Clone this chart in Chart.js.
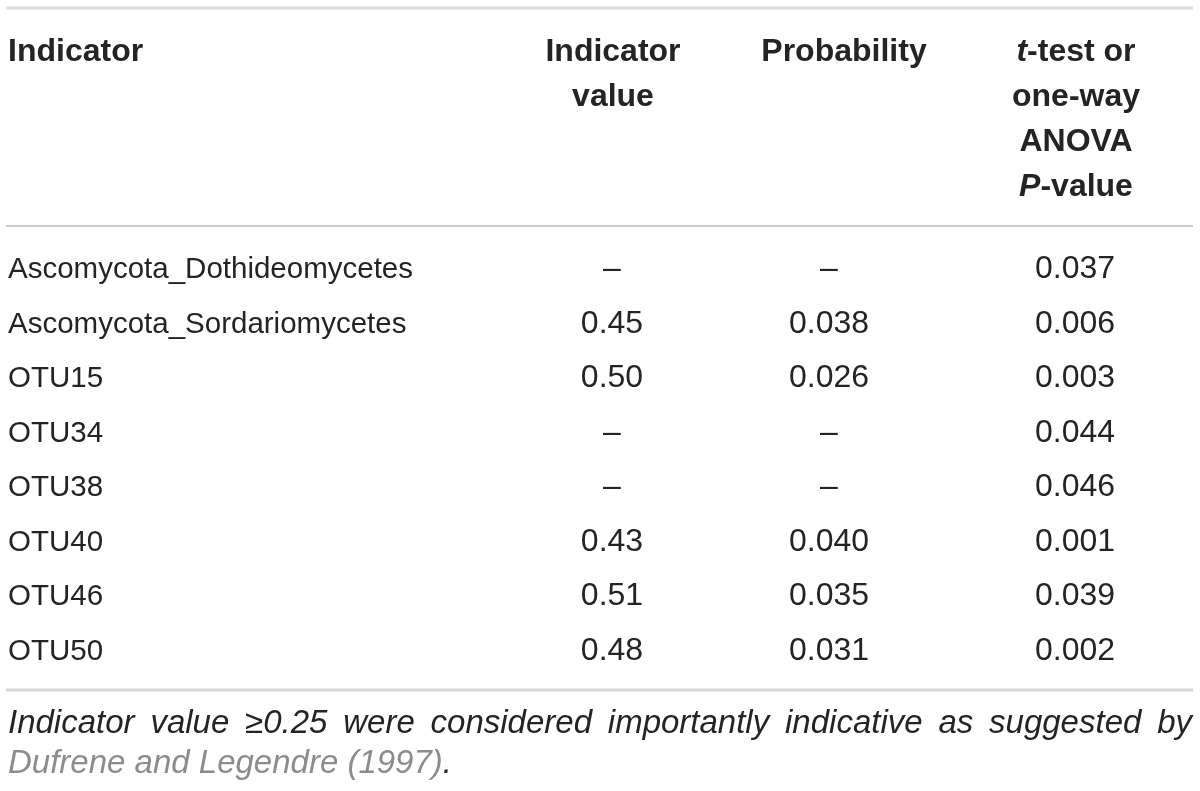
<!DOCTYPE html>
<html>
<head>
<meta charset="utf-8">
<script src="https://cdn.jsdelivr.net/npm/chart.js@4.4.0/dist/chart.umd.min.js"></script>
<style>
  html, body { margin: 0; padding: 0; background: #fff; }
  #wrap { width: 1200px; height: 791px; }
</style>
</head>
<body>
<div id="wrap"><canvas id="table"></canvas></div>
<script>
// table data
const indicators = ['Ascomycota_Dothideomycetes', 'Ascomycota_Sordariomycetes', 'OTU15', 'OTU34', 'OTU38', 'OTU40', 'OTU46', 'OTU50'];
const indicatorValues = [null, 0.45, 0.50, null, null, 0.43, 0.51, 0.48];
const probabilities = [null, 0.038, 0.026, null, null, 0.040, 0.035, 0.031];
const pValues = [0.037, 0.006, 0.003, 0.044, 0.046, 0.001, 0.039, 0.002];

// header lines per column, *x* = italic
const headers = [
    ['Indicator'],
    ['Indicator', 'value'],
    ['Probability'],
    ['*t*-test or', 'one-way', 'ANOVA', '*P*-value']
];
const note = 'Indicator value \u22650.25 were considered importantly indicative as suggested by';
const citation = 'Dufrene and Legendre (1997)';

// layout
const W = 1200, H = 791;
const ROW0 = 278, ROW_H = 54.5;          // baseline of first row, row pitch
const colX = [8, 612, 829, 1075];        // names left edge, then column centres
const headX = [8, 613, 844, 1076];
const headBase = 61, headGap = 45;
const FONT = "'Liberation Sans', Arial, Helvetica, sans-serif";
const INK = '#262324';

const fmt = (v, d) => v === null ? '\u2013' : v.toFixed(d);

const columns = [
    { texts: indicators, align: 'left', size: 29.5 },
    { texts: indicatorValues.map(v => fmt(v, 2)), align: 'center', size: 32 },
    { texts: probabilities.map(v => fmt(v, 3)), align: 'center', size: 32 },
    { texts: pValues.map(v => fmt(v, 3)), align: 'center', size: 32 }
];

const datasets = columns.map((c, ci) => ({
    label: 'col' + ci,
    data: c.texts.map((_, i) => ({ x: colX[ci], y: i })),
    texts: c.texts,
    align: c.align,
    size: c.size,
    pointRadius: 0,
    pointHoverRadius: 0
}));

const toRow = px => (px - ROW0) / ROW_H;

function drawRich(ctx, line, x, y, align, size, weight) {
    const parts = line.split('*').map((t, i) => ({ t, it: i % 2 === 1 })).filter(p => p.t);
    const fontOf = p => (p.it ? 'italic ' : '') + weight + ' ' + size + 'px ' + FONT;
    let total = 0;
    parts.forEach(p => { ctx.font = fontOf(p); p.w = ctx.measureText(p.t).width; total += p.w; });
    let cx = align === 'center' ? x - total / 2 : x;
    parts.forEach(p => {
        ctx.font = fontOf(p);
        ctx.textAlign = 'left';
        ctx.fillText(p.t, cx, y);
        cx += p.w;
    });
}

const tablePlugin = {
    id: 'tablePlugin',
    afterDatasetsDraw(chart) {
        const ctx = chart.ctx;
        const x = chart.scales.x, y = chart.scales.y;
        ctx.save();
        ctx.textBaseline = 'alphabetic';
        ctx.fillStyle = INK;

        // rules
        const rule = (py, lw, col) => {
            ctx.strokeStyle = col;
            ctx.lineWidth = lw;
            ctx.beginPath();
            ctx.moveTo(x.getPixelForValue(6), y.getPixelForValue(toRow(py)));
            ctx.lineTo(x.getPixelForValue(1193), y.getPixelForValue(toRow(py)));
            ctx.stroke();
        };
        rule(8, 3, '#dcdcdc');
        rule(226, 2, '#cccccc');
        rule(690, 3, '#d6d6d6');

        // header
        headers.forEach((lines, ci) => {
            lines.forEach((ln, li) => {
                const py = y.getPixelForValue(toRow(headBase + li * headGap));
                drawRich(ctx, ln, x.getPixelForValue(headX[ci]), py, ci === 0 ? 'left' : 'center', 32, 'bold');
            });
        });

        // body cells
        chart.data.datasets.forEach((ds, di) => {
            const meta = chart.getDatasetMeta(di);
            ctx.font = ds.size + 'px ' + FONT;
            ctx.textAlign = ds.align;
            meta.data.forEach((pt, i) => ctx.fillText(ds.texts[i], pt.x, pt.y));
        });

        // footnote, first line justified
        const left = x.getPixelForValue(8), right = x.getPixelForValue(1192);
        ctx.font = 'italic 33px ' + FONT;
        ctx.textAlign = 'left';
        const words = note.split(' ');
        const widths = words.map(w => ctx.measureText(w).width);
        const gap = (right - left - widths.reduce((a, b) => a + b, 0)) / (words.length - 1);
        let cx = left;
        const b1 = y.getPixelForValue(toRow(733));
        words.forEach((w, i) => { ctx.fillText(w, cx, b1); cx += widths[i] + gap; });

        const b2 = y.getPixelForValue(toRow(773));
        ctx.fillStyle = '#8c8c8c';
        ctx.fillText(citation, left, b2);
        const cw = ctx.measureText(citation).width;
        ctx.fillStyle = INK;
        ctx.fillText('.', left + cw, b2);
        ctx.restore();
    }
};

new Chart(document.getElementById('table'), {
    type: 'scatter',
    data: { datasets },
    options: {
        responsive: true,
        maintainAspectRatio: false,
        animation: false,
        layout: { padding: 0 },
        plugins: { legend: { display: false }, tooltip: { enabled: false } },
        scales: {
            x: { type: 'linear', display: false, min: 0, max: W },
            y: { type: 'linear', display: false, reverse: true, min: toRow(0), max: toRow(H) }
        }
    },
    plugins: [tablePlugin]
});
</script>
</body>
</html>
